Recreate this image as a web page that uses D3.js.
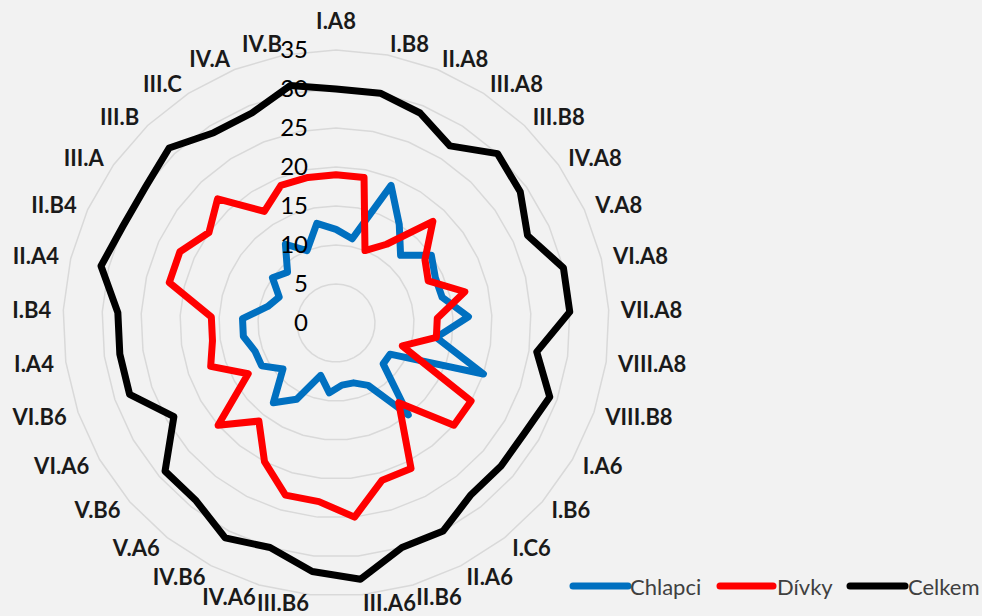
<!DOCTYPE html>
<html>
<head>
<meta charset="utf-8">
<script src="https://cdn.jsdelivr.net/npm/d3@7"></script>
<style>
  html, body { margin: 0; padding: 0; background: #f2f2f2; }
  svg { display: block; }
</style>
</head>
<body>
<svg id="chart" width="982" height="616"></svg>
<script>
const categories = ["I.A8","I.B8","II.A8","III.A8","III.B8","IV.A8","V.A8","VI.A8","VII.A8","VIII.A8","VIII.B8",
  "I.A6","I.B6","I.C6","II.A6","II.B6","III.A6","III.B6","IV.A6","IV.B6","V.A6","V.B6","VI.A6","VI.B6",
  "I.A4","I.B4","II.A4","II.B4","III.A","III.B","III.C","IV.A","IV.B"];
const chlapci = [12,11,19,15,12,15,14,14,17,13,20, 8,8,15,9,8,8,9,7,11,13,9,11,11, 12,12,9,8,10,9,12,10,13];
const divky   = [19,19,10,12,18,14,13,17,13,13,9, 20,20,13,21,21,25,23,23,20,16,20,13,17, 16,16,22,22,20,22,17,19,19];
const celkem  = [30,30,29,27,30,29,27,30,30,26,29, 28,28,28,30,30,33,32,30,31,29,29,24,28, 28,28,31,30,30,31,29,29,31];
const seriesNames = ["Chlapci","Dívky","Celkem"];
const tickValues = [0,5,10,15,20,25,30,35];

const W = 982, H = 616;
const cx = 336, cy = 323, R = 273;
const colors = ["#0070c0", "#ff0000", "#000000"];
const seriesData = [chlapci, divky, celkem];

const svg = d3.select("#chart");
svg.append("rect").attr("width", W).attr("height", H).attr("fill", "#f2f2f2");

const r = d3.scaleLinear().domain([0, 35]).range([0, R]);
const n = categories.length;
const angle = d3.scaleLinear().domain([0, n]).range([0, 2 * Math.PI]);

const g = svg.append("g").attr("transform", `translate(${cx},${cy})`);

// grid rings (polygons)
const ringLine = d3.lineRadial()
  .angle((d, i) => angle(i))
  .radius(d => r(d))
  .curve(d3.curveLinearClosed);
tickValues.filter(v => v > 0).forEach(v => {
  g.append("path")
    .attr("d", ringLine(categories.map(() => v)))
    .attr("fill", "none")
    .attr("stroke", "#d9d9d9")
    .attr("stroke-width", 1.5);
});

// series
const seriesLine = d3.lineRadial()
  .angle((d, i) => angle(i))
  .radius(d => r(d))
  .curve(d3.curveLinearClosed);
seriesData.forEach((data, si) => {
  g.append("path")
    .attr("d", seriesLine(data))
    .attr("fill", "none")
    .attr("stroke", colors[si])
    .attr("stroke-width", 7)
    .attr("stroke-linejoin", "round");
});

// radial value axis labels
const yAxisScale = d3.scaleLinear().domain([0, 35]).range([0, -R]);
const axis = d3.axisLeft(yAxisScale).tickValues(tickValues).tickSize(0).tickPadding(28).tickFormat(d3.format("d"));
const axG = g.append("g").call(axis);
axG.select(".domain").remove();
axG.selectAll("text")
  .attr("font-family", "Lato, 'Open Sans', sans-serif")
  .attr("font-size", 24)
  .attr("fill", "#000");

// category labels
const L = 285;
categories.forEach((c, i) => {
  const a = angle(i);
  const s = Math.sin(a), co = Math.cos(a);
  let x = L * s, y = -L * co;
  let anchor = "middle";
  if (s > 0.01) anchor = "start";
  else if (s < -0.01) anchor = "end";
  if (Math.abs(s) <= 0.01) y = -L - 18;
  y = Math.min(y, H - cy - 14);
  g.append("text")
    .attr("x", x)
    .attr("y", y)
    .attr("text-anchor", anchor)
    .attr("dominant-baseline", "central")
    .attr("font-family", "Lato, 'Open Sans', sans-serif")
    .attr("font-weight", "bold")
    .attr("font-size", 22)
    .attr("fill", "#1a1a1a")
    .text(c);
});

// legend
const legendItems = [
  { x1: 573, x2: 628, tx: 630 },
  { x1: 720, x2: 773, tx: 777 },
  { x1: 850, x2: 905, tx: 908 }
];
const ly = 586;
seriesNames.forEach((name, i) => {
  const it = legendItems[i];
  svg.append("line")
    .attr("x1", it.x1).attr("x2", it.x2)
    .attr("y1", ly).attr("y2", ly)
    .attr("stroke", colors[i])
    .attr("stroke-width", 7)
    .attr("stroke-linecap", "round");
  svg.append("text")
    .attr("x", it.tx).attr("y", ly)
    .attr("dominant-baseline", "central")
    .attr("font-family", "Lato, 'Open Sans', sans-serif")
    .attr("font-size", 22)
    .attr("fill", "#404040")
    .text(name);
});
</script>
</body>
</html>
